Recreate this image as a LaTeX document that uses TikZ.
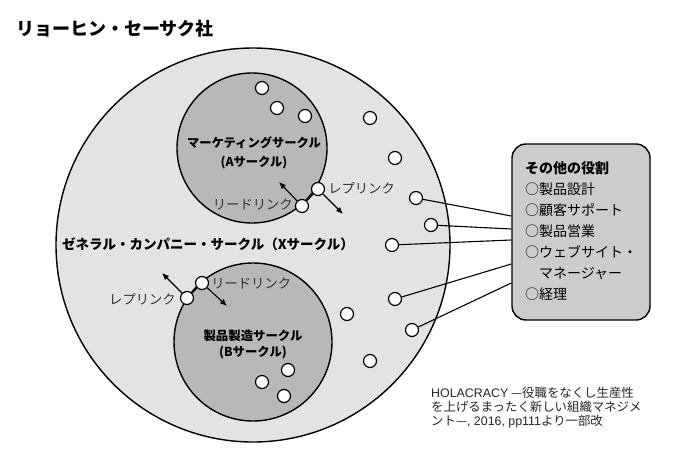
\documentclass[tikz,border=0pt]{standalone}
\usepackage{fontspec}
\setmainfont{Noto Sans CJK JP}
\newfontfamily\latinfont{Liberation Sans}
\usetikzlibrary{positioning,arrows.meta}
\definecolor{outerfill}{gray}{0.89}
\definecolor{innerfill}{gray}{0.72}
\definecolor{boxfill}{gray}{0.80}

\begin{document}
\begin{tikzpicture}[x=1pt,y=-1pt]
		\tikzstyle{circ}=[circle, inner sep=0pt, line width=1.4pt, draw=black]
		\tikzstyle{dot}=[circle, inner sep=0pt, minimum size=13pt, line width=1.2pt, draw=black, fill=white]
		\tikzstyle{connect}=[-{Latex[length=7pt,width=6pt]}, line width=1.1pt]
		\tikzstyle{link}=[line width=1.1pt]
		\tikzstyle{tag}=[inner sep=0pt, text=black!80, font=\fontsize{13.3}{15}\selectfont]
		\tikzstyle{box}=[rectangle, rounded corners=14pt, line width=1.4pt, draw=black, fill=boxfill, minimum width=138pt, minimum height=176pt]
		\useasboundingbox (0,0) rectangle (680,469);
		\fill[white] (0,0) rectangle (680,469);
		\node[inner sep=0pt, anchor=west, font=\bfseries\fontsize{18}{20}\selectfont] (title) at (16,29) {リョーヒン・セーサク社};
		\node[circ, fill=outerfill, minimum size=394pt] (X) at (253,245) {};
		\node[circ, fill=innerfill, minimum size=150pt] (A) at (252,148) {};
		\node[circ, fill=innerfill, minimum size=158pt] (B) at (253,342) {};
		\node[inner sep=0pt, align=center, font=\bfseries\fontsize{12.3}{19}\selectfont] (Alabel) at (254,153) {マーケティングサークル\\(Aサークル)};
		\node[inner sep=0pt, align=center, font=\bfseries\fontsize{12.4}{16}\selectfont] (Blabel) at (253,344) {製品製造サークル\\(Bサークル)};
		\node[inner sep=0pt, anchor=west, font=\bfseries\fontsize{13.5}{15}\selectfont] (Xlabel) at (62,244) {ゼネラル・カンパニー・サークル（Xサークル）};
		\node[dot] (a1) at (262,88) {};
		\node[dot] (a2) at (277,108) {};
		\node[dot] (a3) at (305,116) {};
		\node[dot] (b1) at (288,370) {};
		\node[dot] (b2) at (262,382) {};
		\node[dot] (b3) at (284,396) {};
		\node[dot] (x1) at (370,118) {};
		\node[dot] (x2) at (395,158) {};
		\node[dot] (x3) at (416,198) {};
		\node[dot] (x4) at (431,225) {};
		\node[dot] (x5) at (392,245) {};
		\node[dot] (x6) at (395,299) {};
		\node[dot] (x7) at (412,330) {};
		\node[dot] (x8) at (347,314) {};
		\node[dot] (x9) at (370,361) {};
		\node[dot] (leadA) at (302,206) {};
		\node[dot] (repA) at (318,189) {};
		\node[dot] (leadB) at (202,283) {};
		\node[dot] (repB) at (187,298) {};
		\coordinate (tipLeadA) at (279,182);
		\coordinate (tipRepA) at (343,214);
		\coordinate (tipLeadB) at (227,306);
		\coordinate (tipRepB) at (162,273);
		\node[tag, left=2pt of leadA, yshift=1.5pt] (leadAlabel) {リードリンク};
		\node[tag, right=3pt of repA, yshift=0.5pt] (repAlabel) {レプリンク};
		\node[tag, right=2pt of leadB] (leadBlabel) {リードリンク};
		\node[tag, left=4pt of repB, yshift=-1.5pt] (repBlabel) {レプリンク};
		\node[box] (roles) at (581,232) {};
		\node[inner sep=0pt, anchor=north west, align=left, font=\fontsize{14}{21}\selectfont] (rolelist) at (525,161)
		{{\bfseries その他の役割}\\○製品設計\\○顧客サポート\\○製品営業\\○ウェブサイト・\\\hspace*{1em}マネージャー\\○経理};
		\node[inner sep=0pt, anchor=north west, align=left, text=black!85, font=\fontsize{12.4}{14}\selectfont] (source) at (431,387)
		{{\latinfont HOLACRACY} —役職をなくし生産性\\を上げるまったく新しい組織マネジメ\\ント—{\latinfont, 2016, pp111}より一部改};
		\path (leadA) edge [link] (repA)
		(leadB) edge [link] (repB)
		(leadA) edge [connect] (tipLeadA)
		(repA) edge [connect] (tipRepA)
		(leadB) edge [connect] (tipLeadB)
		(repB) edge [connect] (tipRepB)
		(x3) edge [link] ([yshift=16pt]roles.west)
		(x4) edge [link] ([yshift=3pt]roles.west)
		(x5) edge [link] ([yshift=-8pt]roles.west)
		(x6) edge [link] ([yshift=-32pt]roles.west)
		(x7) edge [link] ([yshift=-51pt]roles.west);
		\end{tikzpicture}
\end{document}
